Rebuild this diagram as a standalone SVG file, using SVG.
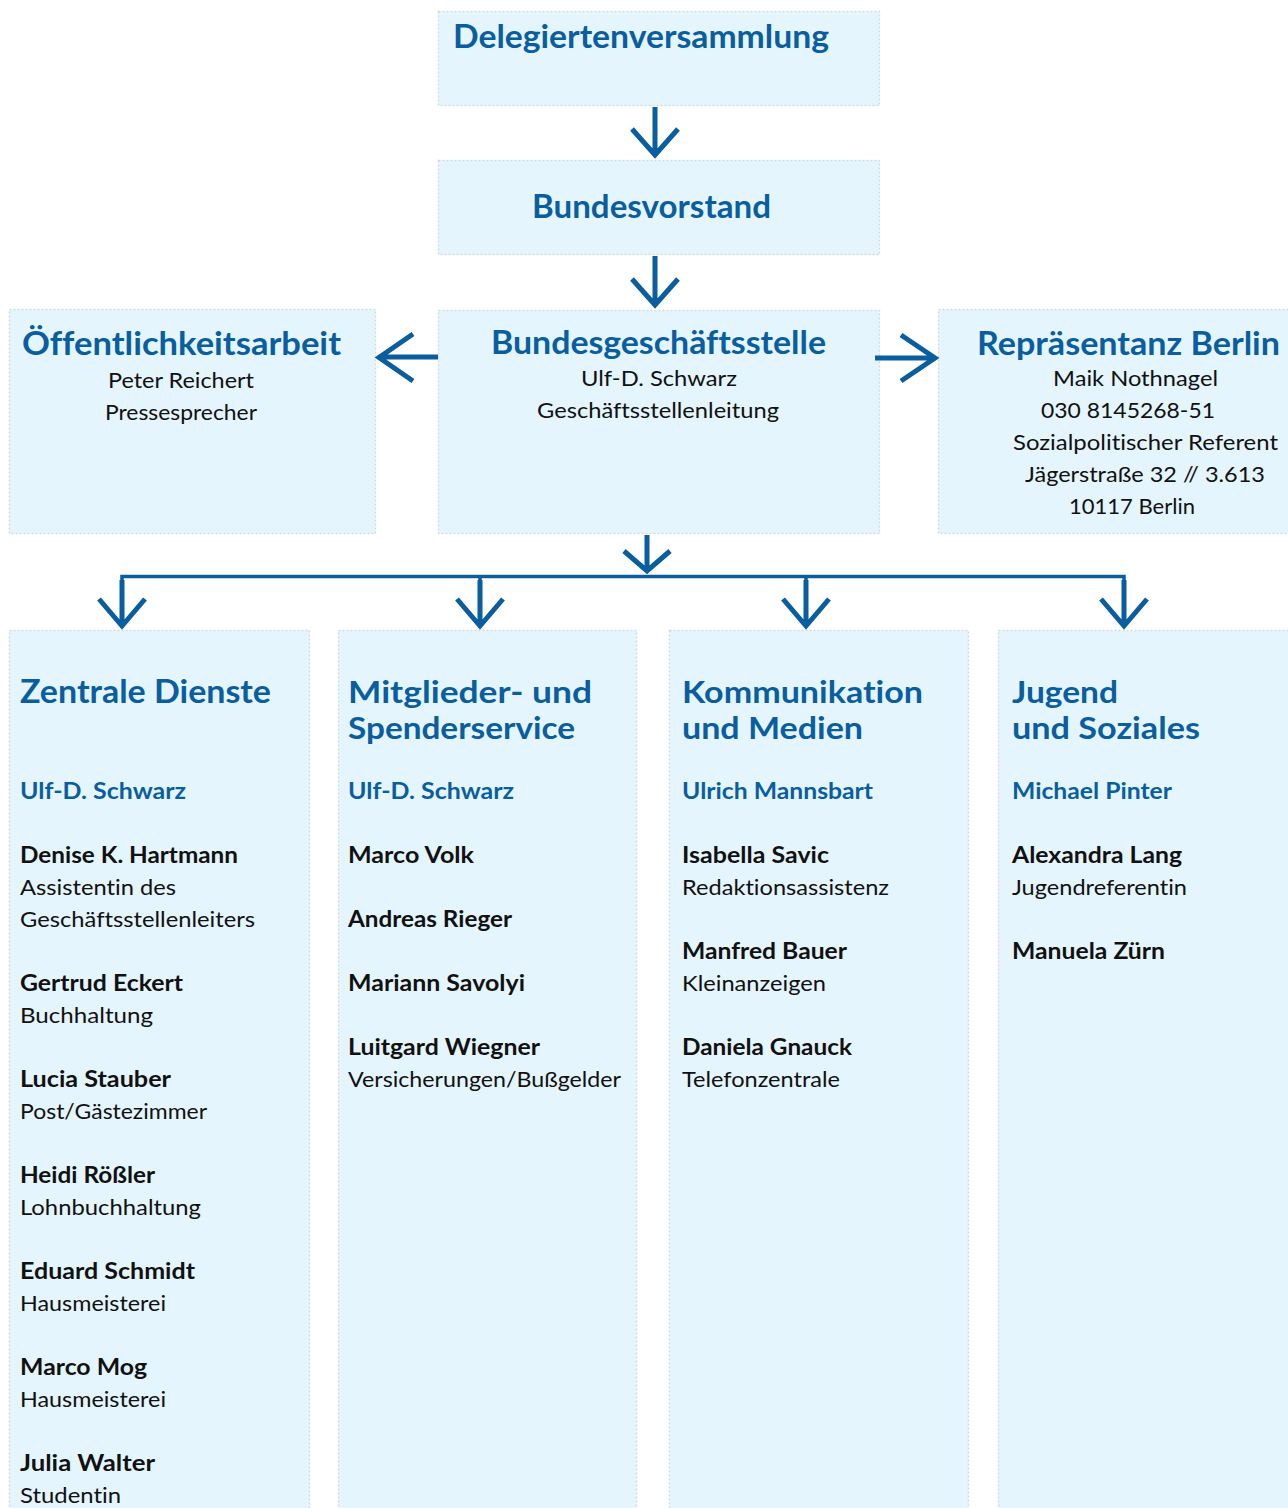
<svg xmlns="http://www.w3.org/2000/svg" width="1288" height="1508" viewBox="0 0 1288 1508">
<style>
.box{fill:#e4f5fd;stroke:#d3dadd;stroke-width:1.5;stroke-dasharray:2 2}
text{font-family:Lato,"Liberation Sans",sans-serif;font-variant-ligatures:none}
.t{font-size:33px;font-weight:bold;fill:#0a5e9f}
.t2{font-size:31px;font-weight:bold;fill:#0a5e9f}
.s{font-size:22px;font-weight:bold;fill:#0a5e9f}
.n{font-size:22px;font-weight:bold;fill:#111}
.r{font-size:22px;fill:#111}
.arr{fill:none;stroke:#0a5e9f;stroke-width:5;stroke-linejoin:miter;stroke-miterlimit:10}
.bus{fill:none;stroke:#0a5e9f;stroke-width:3.5}
</style>
<rect width="1288" height="1508" fill="#fff"/>
<g id="delegiertenversammlung">
<rect class="box" x="438.5" y="11.5" width="441" height="94"/>
<text class="t" x="453" y="48" textLength="376" lengthAdjust="spacingAndGlyphs">Delegiertenversammlung</text>
</g>
<g id="bundesvorstand">
<rect class="box" x="438.5" y="160.5" width="441" height="94"/>
<text class="t" x="532" y="218" textLength="239" lengthAdjust="spacingAndGlyphs">Bundesvorstand</text>
</g>
<g id="bundesgeschaeftsstelle">
<rect class="box" x="438.5" y="310.5" width="441" height="223"/>
<text class="t" x="491" y="354" textLength="335" lengthAdjust="spacingAndGlyphs">Bundesgeschäftsstelle</text>
<text class="r" x="581" y="386" textLength="156" lengthAdjust="spacingAndGlyphs">Ulf-D. Schwarz</text>
<text class="r" x="537" y="418" textLength="242" lengthAdjust="spacingAndGlyphs">Geschäftsstellenleitung</text>
</g>
<g id="oeffentlichkeitsarbeit">
<rect class="box" x="9.5" y="309.5" width="366" height="224"/>
<text class="t" x="22" y="355" textLength="319" lengthAdjust="spacingAndGlyphs">Öffentlichkeitsarbeit</text>
<text class="r" x="108" y="388" textLength="146" lengthAdjust="spacingAndGlyphs">Peter Reichert</text>
<text class="r" x="105" y="420" textLength="152" lengthAdjust="spacingAndGlyphs">Pressesprecher</text>
</g>
<g id="repraesentanz-berlin">
<rect class="box" x="938.5" y="309.5" width="360" height="224"/>
<text class="t" x="977" y="355" textLength="303" lengthAdjust="spacingAndGlyphs">Repräsentanz Berlin</text>
<text class="r" x="1053" y="386" textLength="165" lengthAdjust="spacingAndGlyphs">Maik Nothnagel</text>
<text class="r" x="1041" y="418" textLength="174" lengthAdjust="spacingAndGlyphs">030 8145268-51</text>
<text class="r" x="1013" y="450" textLength="265" lengthAdjust="spacingAndGlyphs">Sozialpolitischer Referent</text>
<text class="r" x="1025" y="482" textLength="240" lengthAdjust="spacingAndGlyphs">Jägerstraße 32 // 3.613</text>
<text class="r" x="1069" y="514" textLength="126" lengthAdjust="spacingAndGlyphs">10117 Berlin</text>
</g>
<g id="zentrale-dienste">
<rect class="box" x="9.5" y="630.5" width="300" height="890"/>
<text class="t" x="20" y="703" textLength="251" lengthAdjust="spacingAndGlyphs">Zentrale Dienste</text>
<text class="s" x="20" y="799" textLength="166" lengthAdjust="spacingAndGlyphs">Ulf-D. Schwarz</text>
<text class="n" x="20" y="863" textLength="218" lengthAdjust="spacingAndGlyphs">Denise K. Hartmann</text>
<text class="r" x="20" y="895" textLength="156" lengthAdjust="spacingAndGlyphs">Assistentin des</text>
<text class="r" x="20" y="927" textLength="235" lengthAdjust="spacingAndGlyphs">Geschäftsstellenleiters</text>
<text class="n" x="20" y="991" textLength="163" lengthAdjust="spacingAndGlyphs">Gertrud Eckert</text>
<text class="r" x="20" y="1023" textLength="133" lengthAdjust="spacingAndGlyphs">Buchhaltung</text>
<text class="n" x="20" y="1087" textLength="151" lengthAdjust="spacingAndGlyphs">Lucia Stauber</text>
<text class="r" x="20" y="1119" textLength="187" lengthAdjust="spacingAndGlyphs">Post/Gästezimmer</text>
<text class="n" x="20" y="1183" textLength="135" lengthAdjust="spacingAndGlyphs">Heidi Rößler</text>
<text class="r" x="20" y="1215" textLength="181" lengthAdjust="spacingAndGlyphs">Lohnbuchhaltung</text>
<text class="n" x="20" y="1279" textLength="175" lengthAdjust="spacingAndGlyphs">Eduard Schmidt</text>
<text class="r" x="20" y="1311" textLength="146" lengthAdjust="spacingAndGlyphs">Hausmeisterei</text>
<text class="n" x="20" y="1375" textLength="127" lengthAdjust="spacingAndGlyphs">Marco Mog</text>
<text class="r" x="20" y="1407" textLength="146" lengthAdjust="spacingAndGlyphs">Hausmeisterei</text>
<text class="n" x="20" y="1471" textLength="135" lengthAdjust="spacingAndGlyphs">Julia Walter</text>
<text class="r" x="20" y="1503" textLength="101" lengthAdjust="spacingAndGlyphs">Studentin</text>
</g>
<g id="mitglieder-spenderservice">
<rect class="box" x="338.5" y="630.5" width="298" height="890"/>
<text class="t2" x="348" y="703" textLength="244" lengthAdjust="spacingAndGlyphs">Mitglieder- und</text>
<text class="t2" x="348" y="739" textLength="227" lengthAdjust="spacingAndGlyphs">Spenderservice</text>
<text class="s" x="348" y="799" textLength="166" lengthAdjust="spacingAndGlyphs">Ulf-D. Schwarz</text>
<text class="n" x="348" y="863" textLength="126" lengthAdjust="spacingAndGlyphs">Marco Volk</text>
<text class="n" x="348" y="927" textLength="164" lengthAdjust="spacingAndGlyphs">Andreas Rieger</text>
<text class="n" x="348" y="991" textLength="177" lengthAdjust="spacingAndGlyphs">Mariann Savolyi</text>
<text class="n" x="348" y="1055" textLength="192" lengthAdjust="spacingAndGlyphs">Luitgard Wiegner</text>
<text class="r" x="348" y="1087" textLength="273" lengthAdjust="spacingAndGlyphs">Versicherungen/Bußgelder</text>
</g>
<g id="kommunikation-medien">
<rect class="box" x="669.5" y="630.5" width="299" height="890"/>
<text class="t2" x="682" y="703" textLength="241" lengthAdjust="spacingAndGlyphs">Kommunikation</text>
<text class="t2" x="682" y="739" textLength="181" lengthAdjust="spacingAndGlyphs">und Medien</text>
<text class="s" x="682" y="799" textLength="191" lengthAdjust="spacingAndGlyphs">Ulrich Mannsbart</text>
<text class="n" x="682" y="863" textLength="147" lengthAdjust="spacingAndGlyphs">Isabella Savic</text>
<text class="r" x="682" y="895" textLength="207" lengthAdjust="spacingAndGlyphs">Redaktionsassistenz</text>
<text class="n" x="682" y="959" textLength="165" lengthAdjust="spacingAndGlyphs">Manfred Bauer</text>
<text class="r" x="682" y="991" textLength="144" lengthAdjust="spacingAndGlyphs">Kleinanzeigen</text>
<text class="n" x="682" y="1055" textLength="170" lengthAdjust="spacingAndGlyphs">Daniela Gnauck</text>
<text class="r" x="682" y="1087" textLength="158" lengthAdjust="spacingAndGlyphs">Telefonzentrale</text>
</g>
<g id="jugend-soziales">
<rect class="box" x="998.5" y="630.5" width="300" height="890"/>
<text class="t2" x="1012" y="703" textLength="106" lengthAdjust="spacingAndGlyphs">Jugend</text>
<text class="t2" x="1012" y="739" textLength="188" lengthAdjust="spacingAndGlyphs">und Soziales</text>
<text class="s" x="1012" y="799" textLength="160" lengthAdjust="spacingAndGlyphs">Michael Pinter</text>
<text class="n" x="1012" y="863" textLength="170" lengthAdjust="spacingAndGlyphs">Alexandra Lang</text>
<text class="r" x="1012" y="895" textLength="175" lengthAdjust="spacingAndGlyphs">Jugendreferentin</text>
<text class="n" x="1012" y="959" textLength="153" lengthAdjust="spacingAndGlyphs">Manuela Zürn</text>
</g>
<g id="connectors">
<path class="arr" d="M655,107 V155 M632,129 L655,155 L678,129"/>
<path class="arr" d="M655,256 V305 M632,279 L655,305 L678,279"/>
<path class="arr" d="M438,357 H380 M413,334 L379,357.5 L413,381"/>
<path class="arr" d="M875,358 H933 M901,335 L935,358 L901,381"/>
<path class="arr" d="M647,535 V571 M624,551 L647,571 L670,551"/>
<path class="bus" d="M122,605 V576.5 H1124 V605 M480,577 V605 M806,577 V605"/>
<path class="arr" d="M122,580 V625 M99,599 L122,626 L145,599"/>
<path class="arr" d="M480,580 V625 M457,599 L480,626 L503,599"/>
<path class="arr" d="M806,580 V625 M783,599 L806,626 L829,599"/>
<path class="arr" d="M1124,580 V625 M1101,599 L1124,626 L1147,599"/>
</g>
</svg>
